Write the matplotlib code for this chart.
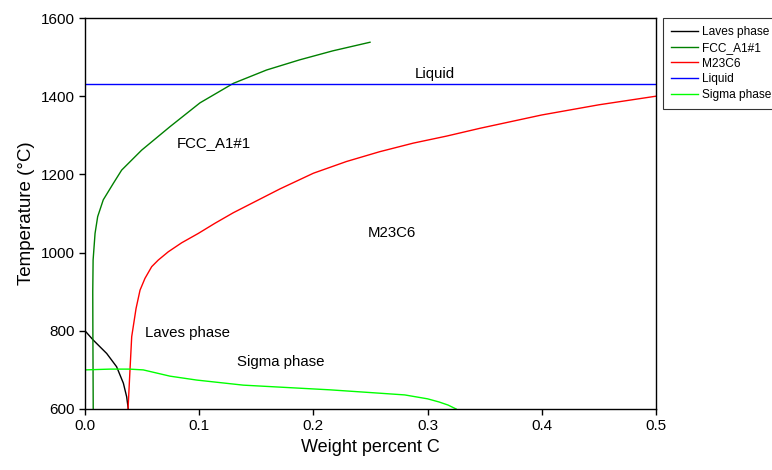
import matplotlib
matplotlib.use("Agg")
import matplotlib.pyplot as plt

plt.rcParams["font.family"] = ["Liberation Sans", "DejaVu Sans"]

# phase boundaries (weight percent C, temperature in C)
laves_x = [0.0, 0.0073, 0.019, 0.0277, 0.0336, 0.0365, 0.0379]
laves_t = [800, 776, 742, 708, 666, 631, 600]

fcc_x = [0.0072, 0.0069, 0.0068, 0.0071, 0.0088, 0.0111, 0.016, 0.0248,
         0.0321, 0.0496, 0.0744, 0.1007, 0.13, 0.159, 0.188, 0.217, 0.2496]
fcc_t = [600, 800, 900, 981, 1049, 1092, 1135, 1177,
         1211, 1262, 1322, 1383, 1433, 1467, 1493, 1516, 1538]

m23_x = [0.0377, 0.0394, 0.0409, 0.0447, 0.0482, 0.0525, 0.0584, 0.0642, 0.0729,
         0.0846, 0.0992, 0.1138, 0.1299, 0.1708, 0.2, 0.229, 0.258, 0.2875, 0.3167,
         0.346, 0.4, 0.45, 0.5]
m23_t = [600, 700, 785, 857, 904, 934, 964, 981, 1002,
         1025, 1049, 1075, 1102, 1163, 1203, 1233, 1258, 1280, 1298,
         1318, 1352, 1378, 1400]

liquid_x = [0.0, 0.5]
liquid_t = [1431, 1431]

sigma_x = [0.0, 0.0219, 0.039, 0.051, 0.0744, 0.0978, 0.1386, 0.2145, 0.25, 0.28,
           0.3, 0.31, 0.318, 0.325]
sigma_t = [700, 702, 702, 700, 684, 674, 661, 649, 642, 636, 626, 618, 610, 600]

fig = plt.figure(figsize=(7.72, 4.70), dpi=100)
ax = fig.add_axes([0.1101, 0.1298, 0.7396, 0.8319])

ax.plot(laves_x, laves_t, color="black", lw=1.0, label="Laves phase")
ax.plot(fcc_x, fcc_t, color="#008000", lw=1.0, label="FCC_A1#1")
ax.plot(m23_x, m23_t, color="red", lw=1.0, label="M23C6")
ax.plot(liquid_x, liquid_t, color="blue", lw=1.0, label="Liquid")
ax.plot(sigma_x, sigma_t, color="#00ff00", lw=1.0, label="Sigma phase")

# region labels
ax.text(0.306, 1456, "Liquid", fontsize=10.8, ha="center", va="center")
ax.text(0.113, 1280, "FCC_A1#1", fontsize=10.8, ha="center", va="center")
ax.text(0.269, 1050, "M23C6", fontsize=10.8, ha="center", va="center")
ax.text(0.09, 794, "Laves phase", fontsize=10.8, ha="center", va="center")
ax.text(0.171, 720, "Sigma phase", fontsize=10.8, ha="center", va="center")

ax.set_xlim(0, 0.5)
ax.set_ylim(600, 1600)
ax.set_xticks([0.0, 0.1, 0.2, 0.3, 0.4, 0.5])
ax.set_xticklabels(["0.0", "0.1", "0.2", "0.3", "0.4", "0.5"])
ax.set_yticks([600, 800, 1000, 1200, 1400, 1600])
ax.tick_params(direction="out", length=4, width=1, labelsize=11)
for s in ax.spines.values():
    s.set_linewidth(1.0)

ax.set_xlabel("Weight percent C", fontsize=13)
ax.set_ylabel("Temperature (\u00b0C)", fontsize=13.5)

leg = ax.legend(loc="upper left", bbox_to_anchor=(1.012, 1.0), fontsize=8.6,
                frameon=True, fancybox=False, handlelength=2.25, borderaxespad=0,
                labelspacing=0.3, borderpad=0.7, handletextpad=0.35)
leg.get_frame().set_edgecolor("black")
leg.get_frame().set_linewidth(0.8)

fig.savefig("out.png", dpi=100)
